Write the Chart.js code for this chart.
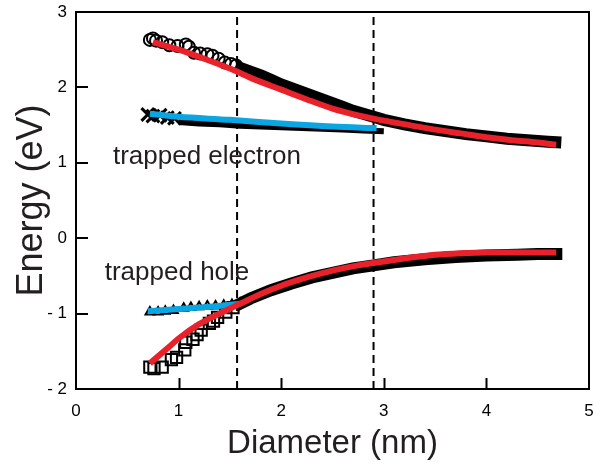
<!DOCTYPE html>
<html>
<head>
<meta charset="utf-8">
<script src="https://cdn.jsdelivr.net/npm/chart.js@4/dist/chart.umd.min.js"></script>
<style>
  html, body { margin: 0; padding: 0; background: #fff; overflow: hidden; }
  canvas { display: block; }
</style>
</head>
<body>
<canvas id="c" width="593" height="468"></canvas>
<script>
// Axis ticks
const diameterTicks = [0, 1, 2, 3, 4, 5];
const energyTicks = [-2, -1, 0, 1, 2, 3];
// Size boundaries marked with dashed lines (nm)
const boundaryDiameters = [1.57, 2.9];

// Electron level: sparse circles
const elecCircleX = [0.72, 0.75, 0.78, 0.84, 0.91, 0.99, 1.07, 1.10, 1.15, 1.21, 1.28, 1.33, 1.39, 1.45, 1.51, 1.56];
const elecCircleY = [2.63, 2.65, 2.62, 2.60, 2.56, 2.55, 2.57, 2.54, 2.46, 2.45, 2.44, 2.42, 2.38, 2.33, 2.31, 2.29];
// Electron level: dense measurements
const elecDenseX = [1.56, 1.7, 1.8, 1.9, 2.0, 2.1, 2.2, 2.3, 2.4, 2.5, 2.6, 2.7, 2.8, 2.9, 3.0, 3.2, 3.4, 3.6, 3.8, 4.0, 4.2, 4.4, 4.6, 4.73];
const elecDenseY = [2.28, 2.21, 2.16, 2.10, 2.04, 1.99, 1.94, 1.89, 1.84, 1.79, 1.74, 1.69, 1.65, 1.61, 1.57, 1.51, 1.46, 1.42, 1.38, 1.35, 1.32, 1.30, 1.28, 1.27];
// Electron level fit
const elecFitX = [0.75, 1.0, 1.25, 1.5, 1.75, 2.0, 2.25, 2.5, 2.75, 3.0, 3.25, 3.5, 3.75, 4.0, 4.25, 4.5, 4.68];
const elecFitY = [2.60, 2.50, 2.38, 2.25, 2.10, 1.97, 1.84, 1.72, 1.63, 1.56, 1.50, 1.44, 1.39, 1.34, 1.30, 1.27, 1.24];

// Trapped electron: sparse crosses
const trapElecX = [0.70, 0.75, 0.82, 0.89, 0.96];
const trapElecY = [1.64, 1.62, 1.63, 1.60, 1.59];
// Trapped electron: dense measurements
const trapElecDenseX = [1.0, 1.2, 1.4, 1.6, 1.8, 2.0, 2.2, 2.4, 2.6, 2.8, 3.0];
const trapElecDenseY = [1.54, 1.52, 1.51, 1.49, 1.48, 1.47, 1.46, 1.45, 1.44, 1.43, 1.42];
// Trapped electron fit
const trapElecFitX = [0.72, 1.0, 1.5, 2.0, 2.5, 2.93];
const trapElecFitY = [1.65, 1.61, 1.57, 1.52, 1.48, 1.46];

// Hole level: sparse squares
const holeSquareX = [0.72, 0.76, 0.84, 0.93, 0.98, 1.06, 1.07, 1.14, 1.18, 1.22, 1.30, 1.34, 1.38, 1.46, 1.53];
const holeSquareY = [-1.71, -1.73, -1.71, -1.61, -1.58, -1.48, -1.38, -1.34, -1.28, -1.22, -1.13, -1.10, -1.05, -0.98, -0.92];
// Hole level: dense measurements
const holeDenseX = [1.55, 1.7, 1.9, 2.1, 2.3, 2.5, 2.7, 2.9, 3.1, 3.4, 3.7, 4.0, 4.3, 4.5, 4.74];
const holeDenseY = [-0.90, -0.80, -0.69, -0.60, -0.52, -0.46, -0.40, -0.36, -0.32, -0.28, -0.25, -0.23, -0.22, -0.21, -0.21];
// Hole level fit
const holeFitX = [0.72, 0.9, 1.0, 1.2, 1.4, 1.6, 1.8, 2.0, 2.25, 2.5, 2.75, 3.0, 3.25, 3.5, 3.75, 4.0, 4.25, 4.5, 4.68];
const holeFitY = [-1.66, -1.45, -1.33, -1.14, -1.00, -0.87, -0.74, -0.63, -0.52, -0.43, -0.36, -0.31, -0.26, -0.22, -0.20, -0.19, -0.19, -0.19, -0.19];

// Trapped hole: triangles
const trapHoleX = [0.72, 0.80, 0.87, 0.95, 1.05, 1.12, 1.20, 1.28, 1.36, 1.44, 1.52, 1.60];
const trapHoleY = [-0.98, -0.98, -0.97, -0.96, -0.93, -0.92, -0.91, -0.90, -0.90, -0.89, -0.88, -0.86];
// Trapped hole fit
const trapHoleFitX = [0.70, 1.0, 1.3, 1.6];
const trapHoleFitY = [-0.97, -0.94, -0.91, -0.87];

// Annotation labels
const labelTexts = ['trapped electron', 'trapped hole'];
const labelX = [0.36, 0.28];
const labelY = [1.08, -0.46];

const RED = '#e8212a';
const BLUE = '#0ba6e1';
const FONT = '"Liberation Sans", Arial, sans-serif';
const PLOT_RIGHT = 589;

const pts = (xs, ys) => xs.map((x, i) => ({ x, y: ys[i] }));

function markerSet(xs, ys, style, radius, width, order) {
  return {
    data: pts(xs, ys), showLine: false, pointStyle: style, pointRadius: radius,
    pointBorderColor: '#000', pointBackgroundColor: 'rgba(0,0,0,0)', pointBorderWidth: width,
    order
  };
}
function band(xs, ys, width, order) {
  return {
    data: pts(xs, ys), showLine: true, borderColor: '#000', borderWidth: width,
    borderCapStyle: 'butt', borderJoinStyle: 'miter', pointRadius: 0, tension: 0, order
  };
}
function fitLine(xs, ys, color, order) {
  return {
    data: pts(xs, ys), showLine: true, borderColor: color, borderWidth: 6,
    borderCapStyle: 'butt', pointRadius: 0, cubicInterpolationMode: 'monotone', order
  };
}

const datasets = [];
boundaryDiameters.forEach(d => datasets.push({
  data: [{ x: d, y: energyTicks[0] }, { x: d, y: energyTicks[energyTicks.length - 1] }],
  showLine: true, borderColor: '#000', borderWidth: 2, borderDash: [8, 5],
  pointRadius: 0, order: 20
}));
datasets.push(markerSet(elecCircleX, elecCircleY, 'circle', 6, 2, 10));
datasets.push(band(elecDenseX, elecDenseY, 12, 10));
datasets.push(markerSet(trapElecX, trapElecY, 'crossRot', 9, 3, 10));
datasets.push(band(trapElecDenseX, trapElecDenseY, 6, 10));
datasets.push(markerSet(holeSquareX, holeSquareY, 'rect', 8, 2, 10));
datasets.push(band(holeDenseX, holeDenseY, 12, 10));
datasets.push(markerSet(trapHoleX, trapHoleY, 'triangle', 5, 2, 10));
datasets.push(fitLine(trapElecFitX, trapElecFitY, BLUE, 2));
datasets.push(fitLine(trapHoleFitX, trapHoleFitY, BLUE, 2));
datasets.push(fitLine(elecFitX, elecFitY, RED, 1));
datasets.push(fitLine(holeFitX, holeFitY, RED, 1));

// Pin the plot's right edge so the last x label runs off the canvas edge
const plotEdgePlugin = {
  id: 'plotEdge',
  afterLayout(chart) {
    const x = chart.scales.x;
    const a = chart.chartArea;
    a.right = PLOT_RIGHT;
    a.width = a.right - a.left;
    x.right = PLOT_RIGHT;
    x.width = x.right - x.left;
    x.configure();
  }
};

// Frame, inward tick marks and the two annotation labels
const framePlugin = {
  id: 'frame',
  afterDatasetsDraw(chart) {
    const { ctx, chartArea: a, scales: { x, y } } = chart;
    ctx.save();
    ctx.strokeStyle = '#000';
    ctx.lineWidth = 2;
    ctx.beginPath();
    ctx.moveTo(a.left, a.top); ctx.lineTo(PLOT_RIGHT, a.top);
    ctx.lineTo(PLOT_RIGHT, a.bottom); ctx.lineTo(a.left, a.bottom);
    ctx.closePath();
    ctx.stroke();
    ctx.beginPath();
    diameterTicks.slice(1, -1).forEach(v => {
      const px = Math.round(x.getPixelForValue(v)) + 0.5;
      ctx.moveTo(px, a.bottom); ctx.lineTo(px, a.bottom - 11);
    });
    energyTicks.slice(1, -1).forEach(v => {
      const py = Math.round(y.getPixelForValue(v));
      ctx.moveTo(a.left, py); ctx.lineTo(a.left + 12, py);
    });
    ctx.stroke();
    ctx.fillStyle = '#231f20';
    ctx.font = '26px ' + FONT;
    ctx.textAlign = 'left';
    ctx.textBaseline = 'middle';
    labelTexts.forEach((t, i) => {
      ctx.fillText(t, x.getPixelForValue(labelX[i]), y.getPixelForValue(labelY[i]));
    });
    ctx.restore();
  }
};

new Chart(document.getElementById('c'), {
  type: 'scatter',
  data: { datasets },
  options: {
    responsive: false,
    animation: false,
    devicePixelRatio: 1,
    layout: { padding: { top: 11, right: 3, left: 0, bottom: 0 } },
    plugins: { legend: { display: false }, tooltip: { enabled: false } },
    scales: {
      x: {
        type: 'linear', min: 0, max: 5,
        afterBuildTicks: s => { s.ticks = diameterTicks.map(v => ({ value: v })); },
        afterFit: s => { s.height = 79; s.paddingLeft = 0; s.paddingRight = 0; },
        grid: { display: false, drawTicks: false },
        border: { display: false },
        ticks: { color: '#000', padding: 12, font: { size: 17, family: FONT } },
        title: {
          display: true, text: 'Diameter (nm)', color: '#231f20', padding: { top: 4 },
          font: { size: 33, family: FONT }
        }
      },
      y: {
        type: 'linear', min: -2, max: 3,
        afterBuildTicks: s => { s.ticks = energyTicks.map(v => ({ value: v })); },
        afterFit: s => { s.width = 76; s.paddingTop = 0; s.paddingBottom = 0; },
        grid: { display: false, drawTicks: false },
        border: { display: false },
        ticks: {
          color: '#000', padding: 9, font: { size: 17, family: FONT },
          callback: v => (v < 0 ? '- ' + Math.abs(v) : String(v))
        },
        title: {
          display: true, text: 'Energy (eV)', color: '#231f20', padding: { top: 10, bottom: 0 },
          font: { size: 36, family: FONT }
        }
      }
    }
  },
  plugins: [plotEdgePlugin, framePlugin]
});
</script>
</body>
</html>
